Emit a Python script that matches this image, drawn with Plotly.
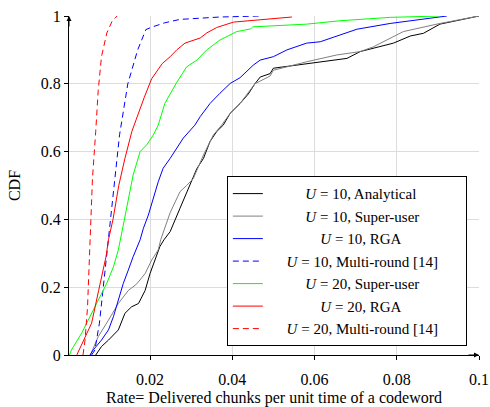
import plotly.graph_objects as go

NB = "\u00a0"

# ---- data (rate, CDF) ----
an10_x = [0.0068, 0.0082, 0.0099, 0.0123, 0.0139, 0.0155, 0.0172, 0.0188, 0.0200, 0.0212, 0.0224, 0.0234,
          0.0249, 0.0273, 0.0297, 0.0314, 0.0330, 0.0346, 0.0362, 0.0378, 0.0395, 0.0419, 0.0439, 0.0455,
          0.0468, 0.0492, 0.0500, 0.0581, 0.0679, 0.0711, 0.0792, 0.0833, 0.0865, 0.0905, 0.1000]
an10_y = [0.0, 0.025, 0.044, 0.074, 0.123, 0.142, 0.152, 0.19, 0.24, 0.28, 0.32, 0.34,
          0.364, 0.433, 0.50, 0.55, 0.58, 0.63, 0.659, 0.678, 0.713, 0.742, 0.77, 0.80,
          0.82, 0.83, 0.846, 0.86, 0.875, 0.895, 0.92, 0.941, 0.949, 0.976, 1.0]

su10_x = [0.0055, 0.0074, 0.0099, 0.0123, 0.0147, 0.0168, 0.0188, 0.0204, 0.0220, 0.0226,
          0.0249, 0.0273, 0.0289, 0.0305, 0.0330, 0.0354, 0.0374, 0.0395, 0.0419, 0.0455,
          0.0492, 0.0500, 0.0581, 0.0654, 0.0711, 0.0743, 0.0816, 0.0905, 0.1000]
su10_y = [0.0, 0.054, 0.103, 0.152, 0.19, 0.21, 0.24, 0.28, 0.31, 0.34,
          0.42, 0.482, 0.50, 0.52, 0.59, 0.649, 0.678, 0.713, 0.742, 0.80,
          0.823, 0.84, 0.865, 0.885, 0.895, 0.909, 0.954, 0.978, 1.0]

rga10_x = [0.0054, 0.0062, 0.0082, 0.0099, 0.0111, 0.0123, 0.0135, 0.0147, 0.0159, 0.0176, 0.0184,
           0.0196, 0.0208, 0.0220, 0.0232, 0.0249, 0.0281, 0.0309, 0.0322, 0.0346, 0.0370, 0.0395,
           0.0419, 0.0451, 0.0468, 0.0500, 0.0533, 0.0581, 0.0614, 0.0686, 0.0703, 0.0784, 0.0905, 0.0922]
rga10_y = [0.0, 0.015, 0.044, 0.074, 0.113, 0.162, 0.211, 0.25, 0.29, 0.34, 0.374,
           0.413, 0.462, 0.511, 0.551, 0.58, 0.64, 0.678, 0.703, 0.742, 0.772, 0.801,
           0.818, 0.855, 0.87, 0.88, 0.90, 0.92, 0.924, 0.954, 0.961, 0.978, 0.996, 1.0]

mr10_x = [0.0058, 0.0066, 0.0077, 0.0086, 0.0095, 0.0103, 0.0115, 0.0126, 0.0146, 0.0170, 0.0190,
          0.0204, 0.0236, 0.0273, 0.0370, 0.0468]
mr10_y = [0.0, 0.015, 0.094, 0.2, 0.3, 0.4, 0.53, 0.65, 0.80, 0.90, 0.96,
          0.967, 0.98, 0.99, 0.997, 1.0]

su20_x = [0.0004, 0.0009, 0.0034, 0.0054, 0.0074, 0.0095, 0.0111, 0.0123, 0.0135, 0.0147, 0.0159,
          0.0176, 0.0192, 0.0208, 0.0220, 0.0236, 0.0263, 0.0289, 0.0314, 0.0338, 0.0370, 0.0411,
          0.0445, 0.0450, 0.0516, 0.0581, 0.0662, 0.0784, 0.0905]
su20_y = [0.0, 0.015, 0.065, 0.113, 0.162, 0.212, 0.26, 0.31, 0.383, 0.452, 0.531,
          0.60, 0.62, 0.649, 0.678, 0.742, 0.80, 0.85, 0.87, 0.90, 0.929, 0.954,
          0.962, 0.968, 0.972, 0.976, 0.986, 0.996, 1.0]

rga20_x = [0.0022, 0.0038, 0.0058, 0.0075, 0.0093, 0.0099, 0.0110, 0.0124, 0.0139, 0.0156, 0.0176,
           0.0186, 0.0204, 0.0230, 0.0249, 0.0265, 0.0285, 0.0322, 0.0338, 0.0362, 0.0403, 0.0468,
           0.0516, 0.0545]
rga20_y = [0.0, 0.044, 0.094, 0.19, 0.29, 0.34, 0.40, 0.50, 0.58, 0.66, 0.73,
           0.76, 0.815, 0.86, 0.88, 0.90, 0.92, 0.935, 0.95, 0.966, 0.982, 0.988,
           0.993, 0.997]

mr20_x = [0.0037, 0.0042, 0.0048, 0.0051, 0.0054, 0.0060, 0.0068, 0.0074, 0.0082, 0.0095, 0.0108, 0.0120]
mr20_y = [0.0, 0.044, 0.14, 0.24, 0.34, 0.52, 0.66, 0.78, 0.88, 0.95, 0.985, 1.0]

series_labels = [
    NB * 10 + "<i>U</i> = 10, Analytical",
    NB * 10 + "<i>U</i> = 10, Super-user",
    NB * 14 + "<i>U</i> = 10, RGA",
    NB * 5 + "<i>U</i> = 10, Multi-round [14]" + NB * 6,
    NB * 10 + "<i>U</i> = 20, Super-user",
    NB * 14 + "<i>U</i> = 20, RGA",
    NB * 5 + "<i>U</i> = 20, Multi-round [14]" + NB * 6,
]

x_ticks = [0.02, 0.04, 0.06, 0.08, 0.1]
x_tick_text = ["0.02", "0.04", "0.06", "0.08", "0.1"]
y_ticks = [0, 0.2, 0.4, 0.6, 0.8, 1.0]
y_tick_text = ["0", "0.2", "0.4", "0.6", "0.8", "1"]

series = [
    (an10_x, an10_y, "#000000", "solid"),
    (su10_x, su10_y, "#808080", "solid"),
    (rga10_x, rga10_y, "#0000ff", "solid"),
    (mr10_x, mr10_y, "#0000ff", "6px,4px"),
    (su20_x, su20_y, "#00ff00", "solid"),
    (rga20_x, rga20_y, "#ff0000", "solid"),
    (mr20_x, mr20_y, "#ff0000", "6px,4px"),
]

FONT = "Liberation Serif, Times New Roman, serif"

fig = go.Figure()
for (xs, ys, col, dash), name in zip(series, series_labels):
    fig.add_trace(go.Scatter(x=xs, y=ys, mode="lines", name=name,
                             line=dict(color=col, width=1, dash=dash)))

fig.update_layout(
    width=490, height=407,
    margin=dict(l=69, r=11, t=16, b=52, autoexpand=False),
    paper_bgcolor="white", plot_bgcolor="white",
    font=dict(family=FONT, size=16, color="black"),
    showlegend=True,
    legend=dict(x=0.385, y=0.527, xanchor="left", yanchor="top",
                bordercolor="black", borderwidth=1, bgcolor="white",
                font=dict(family=FONT, size=15)),
    xaxis=dict(range=[0.0003, 0.1], tickvals=x_ticks, ticktext=x_tick_text,
               showgrid=True, gridcolor="#dcdcdc", gridwidth=1, zeroline=False,
               showline=True, linecolor="black", linewidth=1, mirror=False,
               ticks="outside", ticklen=4, tickcolor="black", ticklabelstandoff=6,
               title=dict(text="Rate= Delivered chunks per unit time of a codeword",
                          font=dict(family=FONT, size=16), standoff=6),
               automargin=False),
    yaxis=dict(range=[0, 1], tickvals=y_ticks, ticktext=y_tick_text,
               showgrid=True, gridcolor="#dcdcdc", gridwidth=1, zeroline=False,
               showline=True, linecolor="black", linewidth=1, mirror=False,
               ticks="outside", ticklen=4, tickcolor="black", ticklabelstandoff=0,
               title=dict(text="CDF", font=dict(family=FONT, size=16), standoff=16),
               automargin=False),
)

# axis arrows
fig.add_annotation(xref="paper", yref="paper", x=1, y=0, ax=-12, ay=0, text="",
                   showarrow=True, arrowhead=2, arrowsize=1, arrowwidth=1, arrowcolor="black", standoff=0)
fig.add_annotation(xref="paper", yref="paper", x=0, y=1, ax=0, ay=12, text="",
                   showarrow=True, arrowhead=2, arrowsize=1, arrowwidth=1, arrowcolor="black", standoff=0)

fig.write_html("out.html", config={"displayModeBar": False},
               post_script="document.body.style.margin='0';")
